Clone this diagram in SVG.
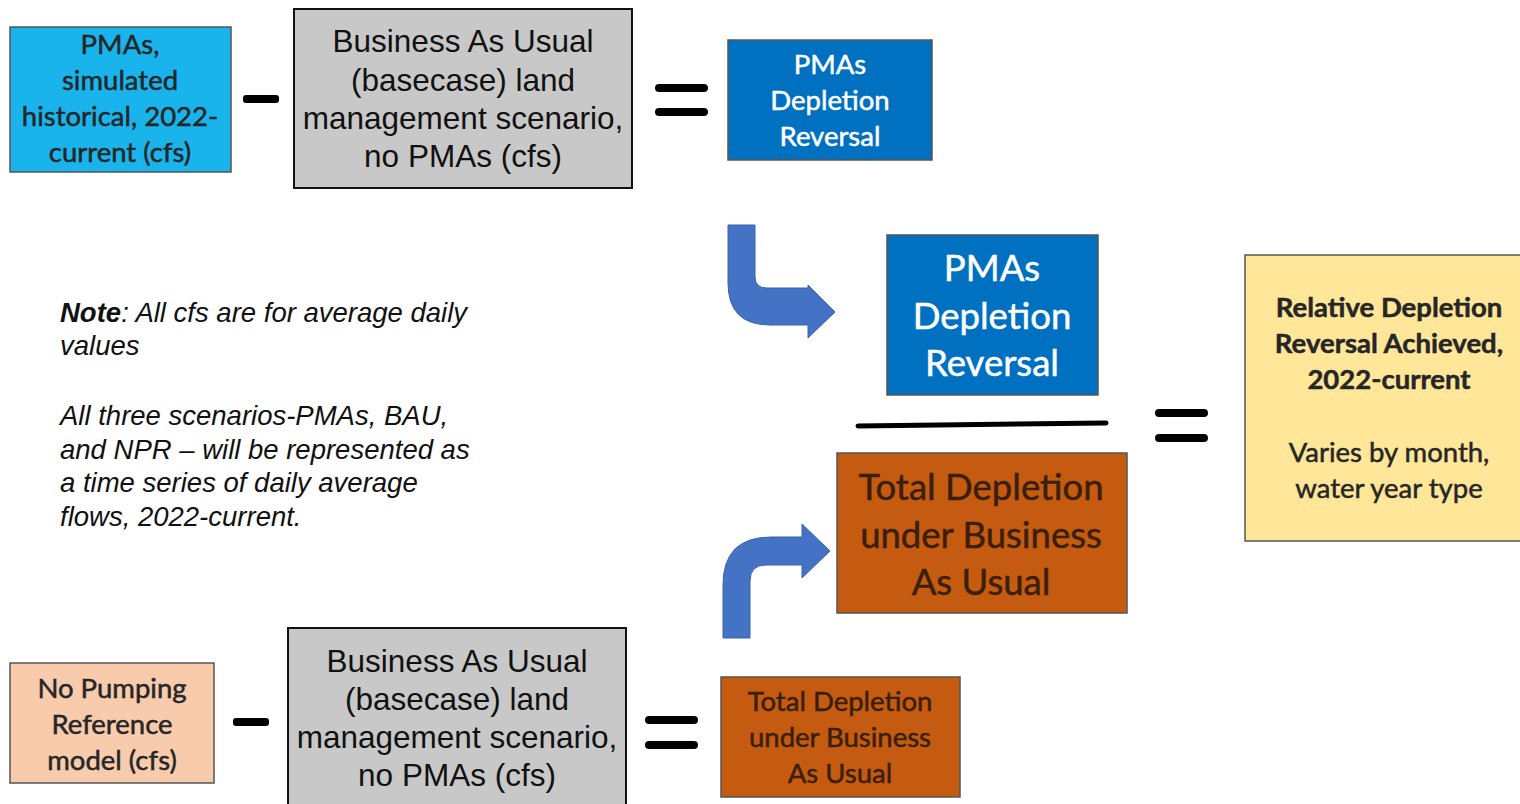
<svg xmlns="http://www.w3.org/2000/svg" width="1520" height="804" viewBox="0 0 1520 804">
<style>
.cal{font-family:Lato,"Open Sans","Noto Sans",sans-serif;text-anchor:middle;stroke-width:0.5}
.dk{fill:#262626;stroke:#262626}
.wh{fill:#fff;stroke:#fff}
.br{fill:#3a200c;stroke:#3a200c}
.ar{font-family:"Liberation Sans",Arial,sans-serif;text-anchor:middle;font-size:31.5px;fill:#111}
.note{font-family:"Liberation Sans",Arial,sans-serif;font-style:italic;font-size:27.5px;fill:#111}
.op{fill:#000}
.arrow{fill:#4472C4;stroke:#3a63ad;stroke-width:1}
.box{stroke:#555;stroke-width:1.5}
</style>
<rect width="1520" height="804" fill="#fff"/>

<g id="pmas-sim">
<rect class="box" x="10" y="27" width="221" height="145" fill="#19B4EC"/>
<text class="cal dk" font-size="27.5"><tspan x="120" y="54">PMAs,</tspan><tspan x="120" y="90">simulated</tspan><tspan x="120" y="126">historical, 2022-</tspan><tspan x="120" y="162">current (cfs)</tspan></text>
</g>
<g id="minus1"><rect class="op" x="243" y="95" width="36" height="8" rx="3"/></g>
<g id="bau1">
<rect x="294" y="9" width="338" height="179" fill="#C8C8C8" stroke="#111" stroke-width="2"/>
<text class="ar"><tspan x="463" y="52">Business As Usual</tspan><tspan x="463" y="91">(basecase) land</tspan><tspan x="463" y="129">management scenario,</tspan><tspan x="463" y="167">no PMAs (cfs)</tspan></text>
</g>
<g id="equals1"><rect class="op" x="655" y="84" width="53" height="8" rx="4"/><rect class="op" x="655" y="108" width="53" height="8" rx="4"/></g>
<g id="pmas-dr-small">
<rect class="box" x="728" y="40" width="204" height="120" fill="#0070C0"/>
<text class="cal wh" font-size="27.5"><tspan x="830" y="74">PMAs</tspan><tspan x="830" y="110">Depletion</tspan><tspan x="830" y="146">Reversal</tspan></text>
</g>

<g id="note">
<text class="note"><tspan x="60" y="322"><tspan font-weight="bold">Note</tspan>: All cfs are for average daily</tspan><tspan x="60" y="355">values</tspan><tspan x="60" y="425">All three scenarios-PMAs, BAU,</tspan><tspan x="60" y="459">and NPR – will be represented as</tspan><tspan x="60" y="492">a time series of daily average</tspan><tspan x="60" y="526">flows, 2022-current.</tspan></text>
</g>

<g id="connectors">
<path class="arrow" d="M728,225 H755 V277 Q755,288 767,288 H808 V285 L835,312 L808,338 V325 H770 Q728,325 728,283 Z"/>
<path class="arrow" d="M723,638 V585 Q723,537 771,537 H802 V524 L830,551 L802,578 V565 H766 Q750,565 750,581 V638 Z"/>
</g>

<g id="pmas-dr-large">
<rect class="box" x="887" y="235" width="211" height="160" fill="#0070C0"/>
<text class="cal wh" font-size="36.5"><tspan x="992" y="281">PMAs</tspan><tspan x="992" y="329">Depletion</tspan><tspan x="992" y="376">Reversal</tspan></text>
</g>
<g id="fraction-line"><line x1="858" y1="426" x2="1106" y2="423" stroke="#000" stroke-width="5" stroke-linecap="round"/></g>
<g id="equals2"><rect class="op" x="1155" y="409" width="53" height="8" rx="4"/><rect class="op" x="1155" y="434" width="53" height="8" rx="4"/></g>
<g id="total-bau-large">
<rect class="box" x="837" y="453" width="290" height="160" fill="#C55A11"/>
<text class="cal br" font-size="36.5"><tspan x="981" y="500">Total Depletion</tspan><tspan x="981" y="548">under Business</tspan><tspan x="981" y="595">As Usual</tspan></text>
</g>
<g id="relative">
<rect class="box" x="1245" y="255" width="280" height="286" fill="#FFE699"/>
<text class="cal dk" font-size="27.5"><tspan x="1389" y="317" font-weight="bold">Relative Depletion</tspan><tspan x="1389" y="353" font-weight="bold">Reversal Achieved,</tspan><tspan x="1389" y="389" font-weight="bold">2022-current</tspan><tspan x="1389" y="462">Varies by month,</tspan><tspan x="1389" y="498">water year type</tspan></text>
</g>

<g id="npr">
<rect class="box" x="10" y="663" width="204" height="120" fill="#F8CBAD"/>
<text class="cal dk" font-size="27.5"><tspan x="112" y="698">No Pumping</tspan><tspan x="112" y="734">Reference</tspan><tspan x="112" y="770">model (cfs)</tspan></text>
</g>
<g id="minus2"><rect class="op" x="233" y="718" width="36" height="8" rx="3"/></g>
<g id="bau2">
<rect x="288" y="628" width="338" height="180" fill="#C8C8C8" stroke="#111" stroke-width="2"/>
<text class="ar"><tspan x="457" y="672">Business As Usual</tspan><tspan x="457" y="710">(basecase) land</tspan><tspan x="457" y="748">management scenario,</tspan><tspan x="457" y="786">no PMAs (cfs)</tspan></text>
</g>
<g id="equals3"><rect class="op" x="645" y="716" width="53" height="8" rx="4"/><rect class="op" x="645" y="741" width="53" height="8" rx="4"/></g>
<g id="total-bau-small">
<rect class="box" x="721" y="677" width="239" height="120" fill="#C55A11"/>
<text class="cal br" font-size="27.5"><tspan x="840" y="711">Total Depletion</tspan><tspan x="840" y="747">under Business</tspan><tspan x="840" y="783">As Usual</tspan></text>
</g>
</svg>
